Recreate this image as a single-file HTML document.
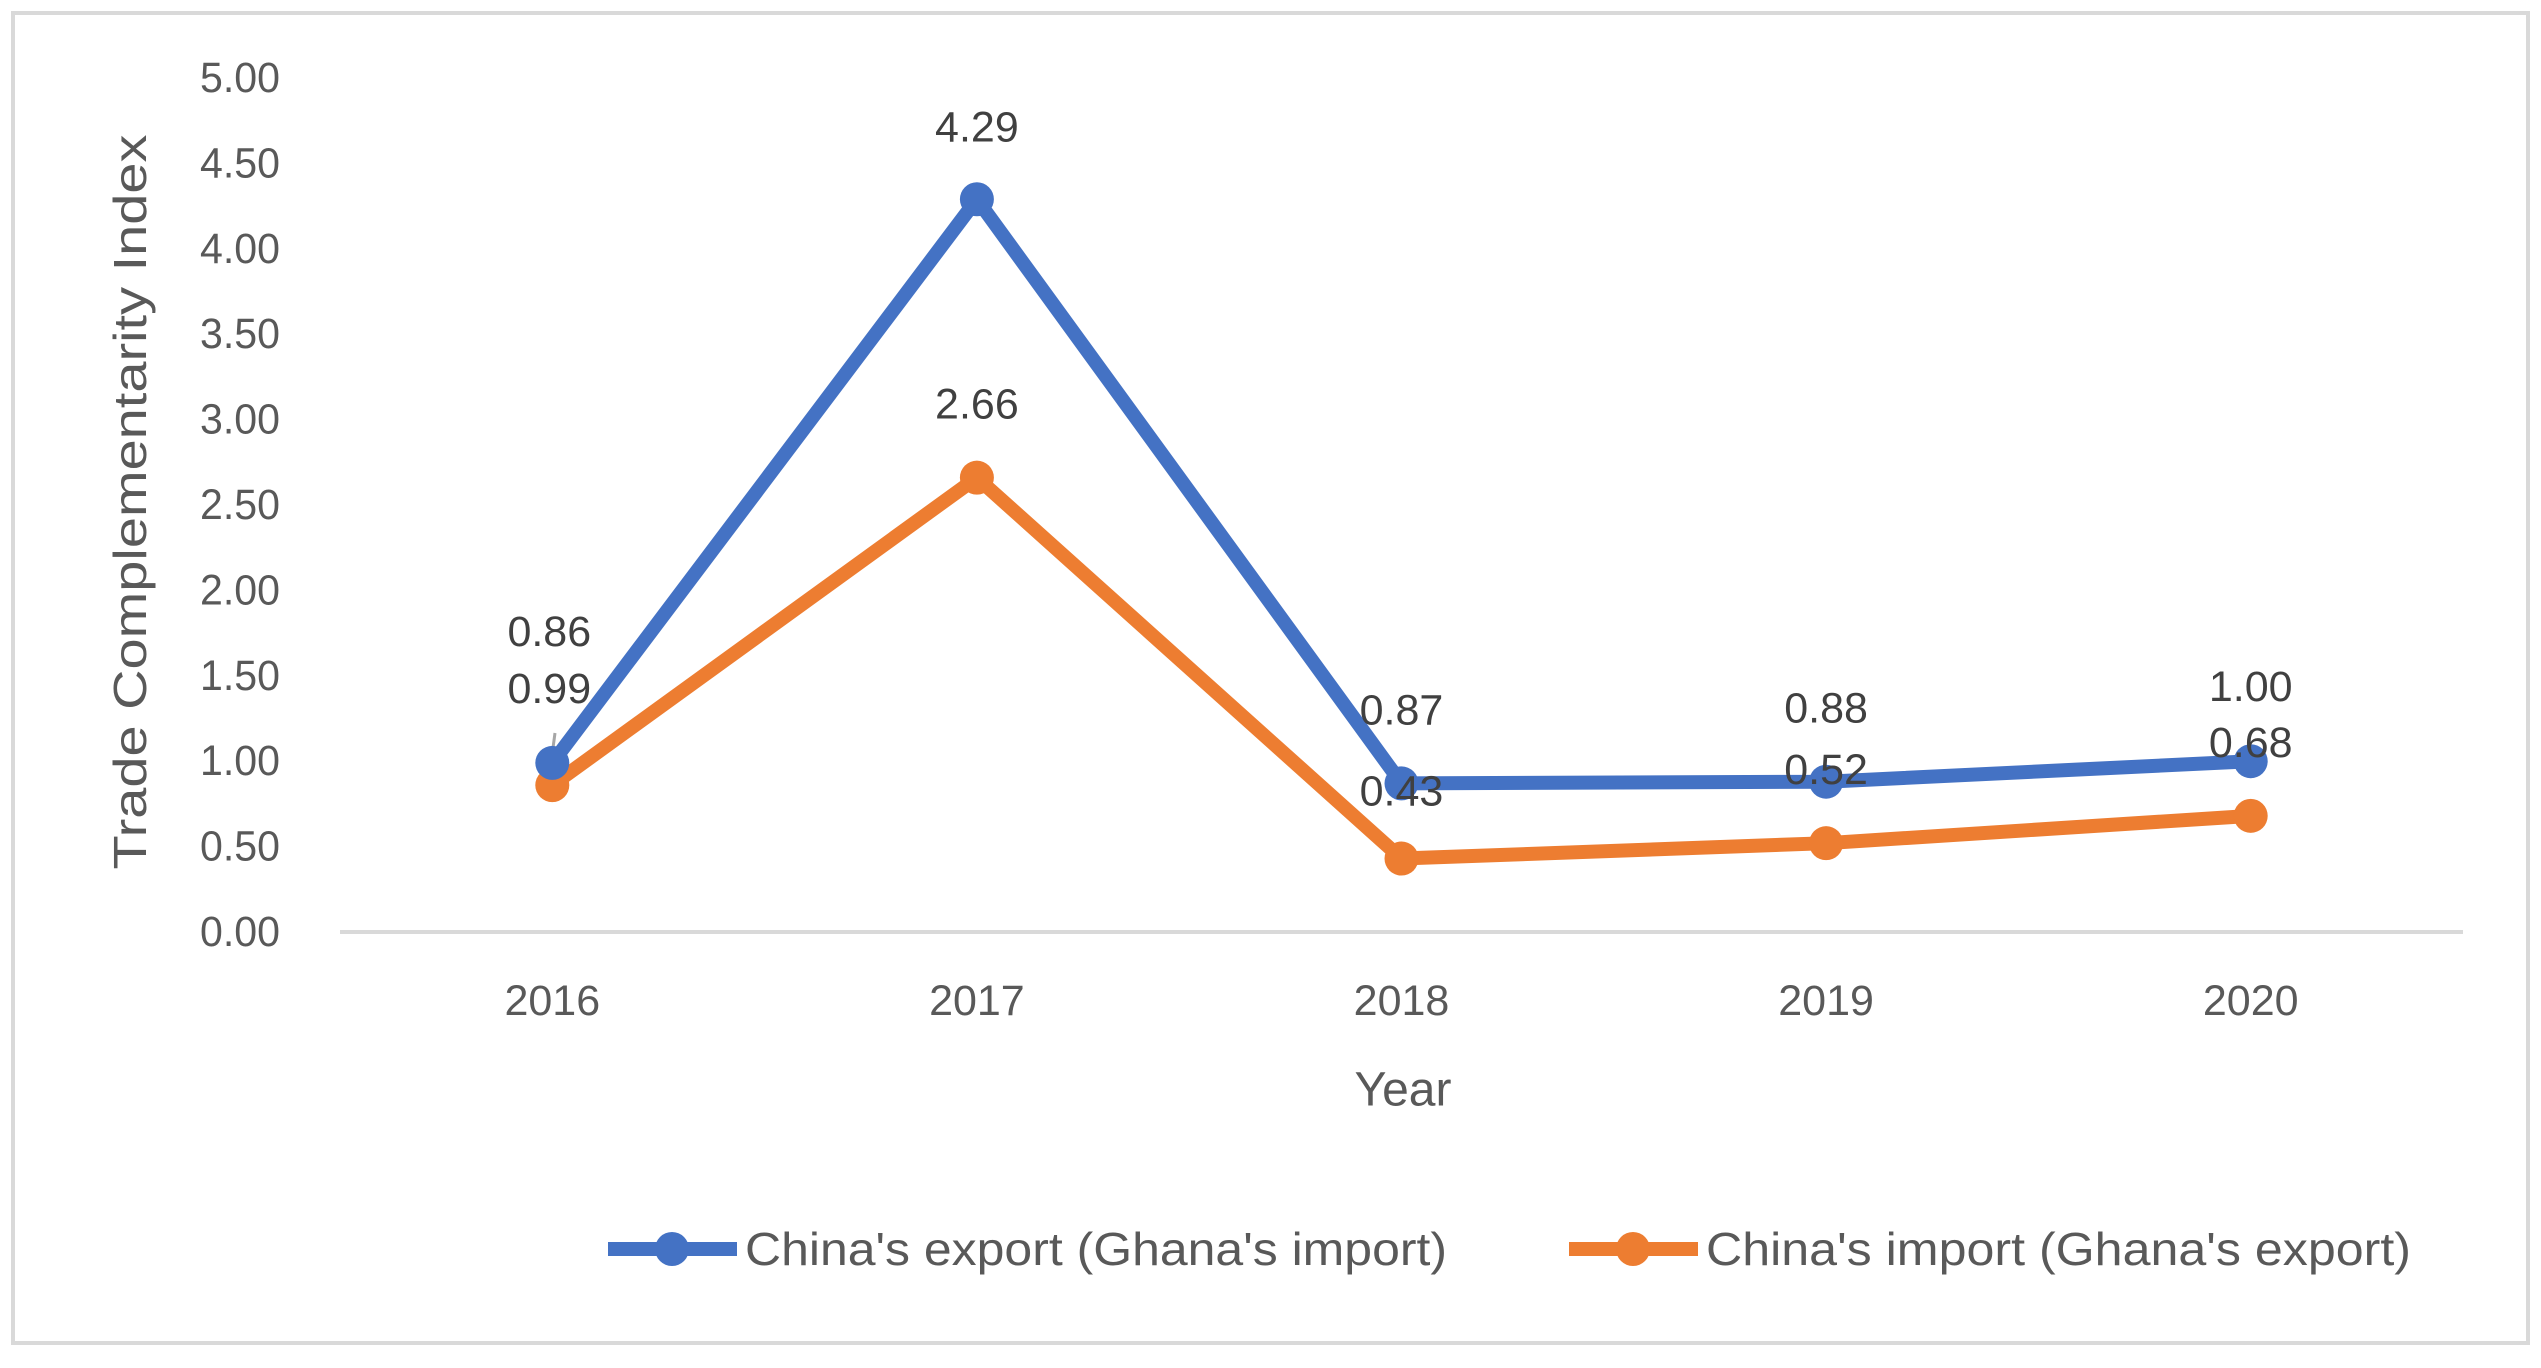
<!DOCTYPE html>
<html><head><meta charset="utf-8"><style>
html,body{margin:0;padding:0;background:#fff;}
svg text{font-family:"Liberation Sans",sans-serif;fill:#595959;}
</style></head><body>
<svg id="chart" width="2541" height="1363" viewBox="0 0 2541 1363" xmlns="http://www.w3.org/2000/svg">
<rect x="13" y="13" width="2515" height="1330" fill="#fff" stroke="#d9d9d9" stroke-width="4"/>
<g id="yticks"></g>
<line x1="340" y1="932" x2="2463" y2="932" stroke="#d9d9d9" stroke-width="4"/>
<g id="xticks"></g>
<text x="130" y="502" font-size="46" text-anchor="middle" dominant-baseline="central" transform="rotate(-90 130 502)" textLength="735" lengthAdjust="spacingAndGlyphs">Trade Complementarity Index</text>
<text x="1403" y="1090" font-size="48" text-anchor="middle" dominant-baseline="central">Year</text>
<line x1="548" y1="785" x2="555" y2="733" stroke="#a6a6a6" stroke-width="3"/>
<g id="series"></g>
<g id="labels"></g>
<g>
<g>
<line x1="608" y1="1249" x2="737" y2="1249" stroke="#4472c4" stroke-width="14"/>
<circle cx="672" cy="1249" r="17" fill="#4472c4"/>
<text x="745" y="1249" font-size="46" dominant-baseline="central" textLength="702" lengthAdjust="spacingAndGlyphs">China's export (Ghana's import)</text>
</g>
<g>
<line x1="1569" y1="1249" x2="1698" y2="1249" stroke="#ed7d31" stroke-width="14"/>
<circle cx="1633" cy="1249" r="17" fill="#ed7d31"/>
<text x="1706" y="1249" font-size="46" dominant-baseline="central" textLength="705" lengthAdjust="spacingAndGlyphs">China's import (Ghana's export)</text>
</g>
</g>
</svg>
<script>
const categories = ["2016","2017","2018","2019","2020"];
const exportValues = [0.99, 4.29, 0.87, 0.88, 1.00];
const importValues = [0.86, 2.66, 0.43, 0.52, 0.68];
const yTickLabels = ["0.00","0.50","1.00","1.50","2.00","2.50","3.00","3.50","4.00","4.50","5.00"];
const yTickValues = [0,0.5,1,1.5,2,2.5,3,3.5,4,4.5,5];

const NS="http://www.w3.org/2000/svg";
const x0=340, x1=2463, yBase=932, yTop=78, yMax=5;
function xScale(i){return x0+(x1-x0)/categories.length*(i+0.5);}
function yScale(v){return yBase-(yBase-yTop)*v/yMax;}
function mk(tag,attrs,parent){const e=document.createElementNS(NS,tag);for(const k in attrs)e.setAttribute(k,attrs[k]);parent.appendChild(e);return e;}

const yt=document.getElementById('yticks');
yTickValues.forEach((v,i)=>{
  const t=mk('text',{x:280,y:yScale(v),'font-size':43,'text-anchor':'end','dominant-baseline':'central',textLength:80,lengthAdjust:'spacingAndGlyphs'},yt);
  t.textContent=yTickLabels[i];
  
  
});
const xt=document.getElementById('xticks');
categories.forEach((c,i)=>{
  const t=mk('text',{x:xScale(i),y:1001,'font-size':43,'text-anchor':'middle','dominant-baseline':'central'},xt);
  t.textContent=c;
  
  
});

const sg=document.getElementById('series');
function drawSeries(vals,color,name){
  const pts=vals.map((v,i)=>xScale(i)+','+yScale(v)).join(' ');
  const pl=mk('polyline',{points:pts,fill:'none',stroke:color,'stroke-width':14,'stroke-linejoin':'round'},sg);
  
  
  vals.forEach((v,i)=>{
    const c=mk('circle',{cx:xScale(i),cy:yScale(v),r:17,fill:color},sg);
    
    
  });
}
drawSeries(importValues,'#ed7d31','import-series');
drawSeries(exportValues,'#4472c4','export-series');

// label vertical offsets relative to point (layout only)
const exportLabelDy=[-74,-72,-73,-73,-74];
const importLabelDy=[-153,-73,-67,-73,-73];
const lg=document.getElementById('labels');
function drawLabels(vals,dys,name){
  vals.forEach((v,i)=>{
    const t=mk('text',{x:xScale(i)+(i===0?-3:0),y:yScale(v)+dys[i],'font-size':43,'text-anchor':'middle','dominant-baseline':'central',style:'fill:#404040'},lg);
    t.textContent=v.toFixed(2);
    
    
  });
}
drawLabels(exportValues,exportLabelDy,'export');
drawLabels(importValues,importLabelDy,'import');
</script>
</body></html>
